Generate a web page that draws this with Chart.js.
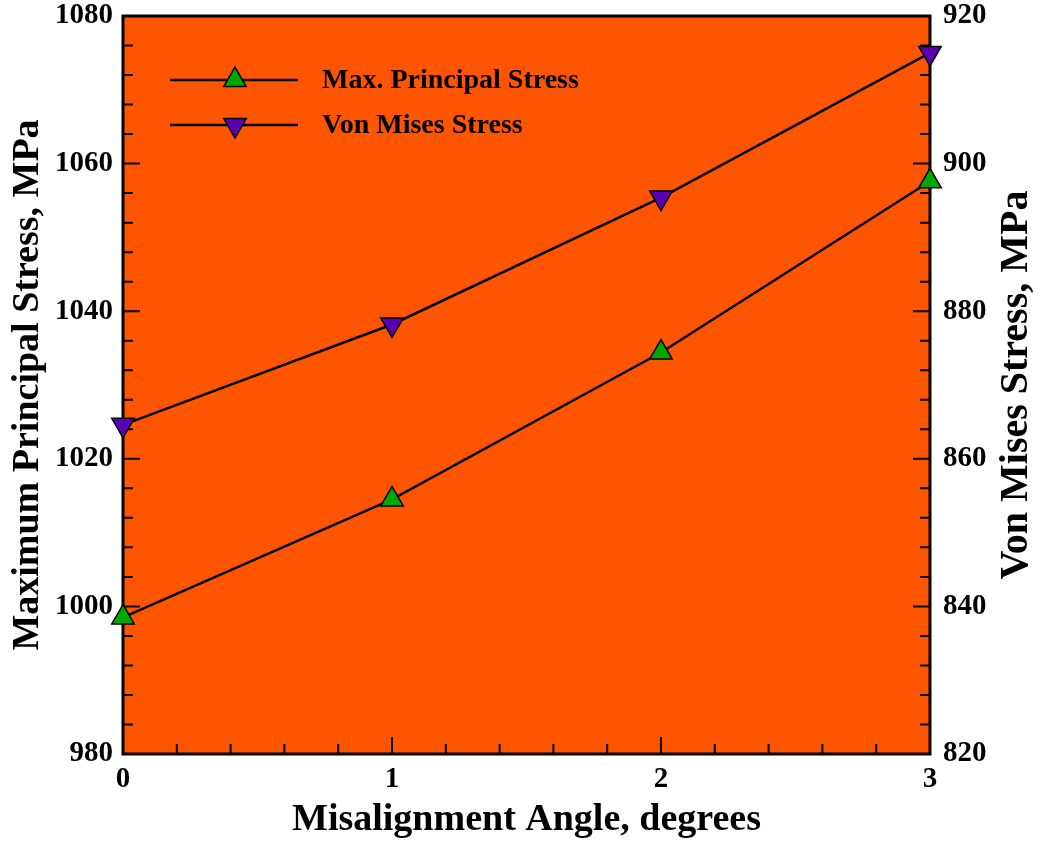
<!DOCTYPE html>
<html>
<head>
<meta charset="utf-8">
<script src="https://cdn.jsdelivr.net/npm/chart.js@4/dist/chart.umd.min.js"></script>
<style>
  html, body { margin: 0; padding: 0; background: #fff; }
</style>
</head>
<body>
<canvas id="stressChart" width="1042" height="843"></canvas>
<script>
// data
const angles = [0, 1, 2, 3];
const maxPrincipal = [998.5, 1014.5, 1034.4, 1057.6];
const vonMises = [864.6, 878.2, 895.4, 915.0];

const seriesNames = ['Max. Principal Stress', 'Von Mises Stress'];
const leftTicks = [980, 1000, 1020, 1040, 1060, 1080];
const rightTicks = [820, 840, 860, 880, 900, 920];
const xTicks = [0, 1, 2, 3];

const leftTitle = 'Maximum Principal Stress, MPa';
const rightTitle = 'Von Mises Stress, MPa';
const xTitle = 'Misalignment Angle, degrees';

const FONT = '"Liberation Serif", "Times New Roman", serif';
const ORANGE = '#ff5500';
const GREEN = '#00a800';
const PURPLE = '#5a00b4';

// orange plot area, frame and inward ticks (major + minor)
const frameTicks = {
    id: 'frameTicks',
    beforeDatasetsDraw(chart) {
        const { ctx, chartArea: a, scales } = chart;
        ctx.save();
        ctx.fillStyle = ORANGE;
        ctx.fillRect(a.left, a.top, a.right - a.left, a.bottom - a.top);

        ctx.strokeStyle = '#000';
        ctx.lineWidth = 2;
        ctx.beginPath();
        // x ticks, minor every 0.2
        for (let i = 0; i <= 15; i++) {
            const px = scales.x.getPixelForValue(i * 0.2);
            const len = i % 5 === 0 ? 17 : 10;
            ctx.moveTo(px, a.bottom);
            ctx.lineTo(px, a.bottom - len);
        }
        // left y ticks, minor every 4
        for (let v = 980; v <= 1080; v += 4) {
            const py = scales.y.getPixelForValue(v);
            const len = (v - 980) % 20 === 0 ? 17 : 10;
            ctx.moveTo(a.left, py);
            ctx.lineTo(a.left + len, py);
        }
        // right y ticks
        for (let v = 820; v <= 920; v += 4) {
            const py = scales.y2.getPixelForValue(v);
            const len = (v - 820) % 20 === 0 ? 17 : 10;
            ctx.moveTo(a.right, py);
            ctx.lineTo(a.right - len, py);
        }
        ctx.stroke();

        ctx.lineWidth = 3;
        ctx.strokeRect(a.left, a.top, a.right - a.left, a.bottom - a.top);
        ctx.restore();
    }
};

// legend inside the plot + both vertical titles (reading bottom to top)
const extras = {
    id: 'extras',
    afterDatasetsDraw(chart) {
        const { ctx, chartArea: a } = chart;
        const rows = [80, 125];
        ctx.save();
        chart.data.datasets.forEach((ds, i) => {
            const y = rows[i];
            ctx.strokeStyle = '#000';
            ctx.lineWidth = 2.5;
            ctx.beginPath();
            ctx.moveTo(170, y);
            ctx.lineTo(298, y);
            ctx.stroke();
            ctx.fillStyle = ds.pointBackgroundColor;
            ctx.strokeStyle = '#000';
            ctx.lineWidth = 1.5;
            Chart.helpers.drawPoint(ctx, {
                pointStyle: 'triangle',
                radius: 13,
                rotation: ds.pointRotation,
                borderWidth: 1.5
            }, 235, y);
            ctx.fillStyle = '#000';
            ctx.font = 'bold 28px ' + FONT;
            ctx.textAlign = 'left';
            ctx.textBaseline = 'middle';
            ctx.fillText(ds.label, 322, y + 1);
        });

        const midY = (a.top + a.bottom) / 2;
        ctx.textAlign = 'center';
        ctx.textBaseline = 'middle';
        [[leftTitle, 28, 38], [rightTitle, 1017, 40]].forEach(([t, x, size]) => {
            ctx.save();
            ctx.font = 'bold ' + size + 'px ' + FONT;
            ctx.translate(x, midY);
            ctx.rotate(-Math.PI / 2);
            ctx.fillText(t, 0, 0);
            ctx.restore();
        });
        ctx.restore();
    }
};

const fixSize = (prop, size) => scale => {
    scale[prop] = size;
    scale.paddingTop = 0;
    scale.paddingBottom = 0;
    scale.paddingLeft = 0;
    scale.paddingRight = 0;
};
const tickFont = { family: FONT, size: 29, weight: 'bold' };
const plain = v => String(v);

new Chart(document.getElementById('stressChart'), {
    type: 'line',
    data: {
        datasets: [{
            label: seriesNames[0],
            data: angles.map((a, i) => ({ x: a, y: maxPrincipal[i] })),
            yAxisID: 'y',
            borderColor: '#000',
            borderWidth: 2.5,
            pointStyle: 'triangle',
            pointRadius: 13,
            pointRotation: 0,
            pointBackgroundColor: GREEN,
            pointBorderColor: '#000',
            pointBorderWidth: 1.5,
            clip: false
        }, {
            label: seriesNames[1],
            data: angles.map((a, i) => ({ x: a, y: vonMises[i] })),
            yAxisID: 'y2',
            borderColor: '#000',
            borderWidth: 2.5,
            pointStyle: 'triangle',
            pointRadius: 13,
            pointRotation: 180,
            pointBackgroundColor: PURPLE,
            pointBorderColor: '#000',
            pointBorderWidth: 1.5,
            clip: false
        }]
    },
    options: {
        responsive: false,
        animation: false,
        layout: { padding: { top: 16, left: 0, right: 0, bottom: 0 } },
        plugins: { legend: { display: false }, tooltip: { enabled: false } },
        scales: {
            x: {
                type: 'linear',
                min: 0, max: 3,
                afterBuildTicks: s => { s.ticks = xTicks.map(v => ({ value: v })); },
                afterFit: fixSize('height', 89),
                grid: { display: false, drawTicks: false },
                border: { display: false },
                ticks: { color: '#000', padding: 8, font: tickFont, callback: plain },
                title: {
                    display: true, text: xTitle, color: '#000',
                    font: { family: FONT, size: 38, weight: 'bold' }, padding: { top: 0, bottom: 0 }
                }
            },
            y: {
                position: 'left',
                min: 980, max: 1080,
                afterBuildTicks: s => { s.ticks = leftTicks.map(v => ({ value: v })); },
                afterFit: fixSize('width', 123),
                grid: { display: false, drawTicks: false },
                border: { display: false },
                ticks: { color: '#000', padding: 10, font: tickFont, callback: plain }
            },
            y2: {
                position: 'right',
                min: 820, max: 920,
                afterBuildTicks: s => { s.ticks = rightTicks.map(v => ({ value: v })); },
                afterFit: fixSize('width', 112),
                grid: { display: false, drawTicks: false },
                border: { display: false },
                ticks: { color: '#000', padding: 13, font: tickFont, callback: plain }
            }
        }
    },
    plugins: [frameTicks, extras]
});
</script>
</body>
</html>
